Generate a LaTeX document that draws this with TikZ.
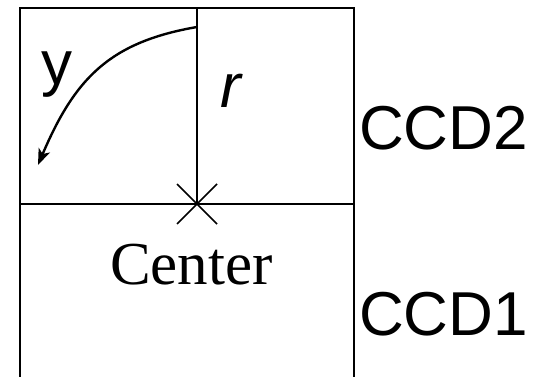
\documentclass[tikz,border=0pt]{standalone}
\usepackage{fontspec}
\setmainfont{Liberation Sans}
\newfontfamily\serifface{Liberation Serif}
\usetikzlibrary{arrows.meta,calc}
\begin{document}
\begin{tikzpicture}[x=1pt,y=-1pt,
  frame/.style={line width=1.9pt,line cap=rect},
  big/.style={inner sep=0pt,font=\fontsize{62}{72}\selectfont},
  bigserif/.style={inner sep=0pt,font=\serifface\fontsize{61}{72}\selectfont}]
\useasboundingbox (0,0) rectangle (544,377);
\coordinate (tl) at (20,8);
\coordinate (tr) at (354,8);
\coordinate (bl) at (20,380);
\coordinate (br) at (354,380);
\coordinate (ml) at (20,204);
\coordinate (mr) at (354,204);
\coordinate (top) at (197,8);
\coordinate (ctr) at (197,204);
\draw[frame] (bl) -- (tl) -- (tr) -- (br);
\draw[frame] (ml) -- (mr);
\draw[frame] (top) -- (ctr);
\draw[line width=1.6pt] ($(ctr)+(-20,-20)$) -- ($(ctr)+(20,20)$);
\draw[line width=1.6pt] ($(ctr)+(-20,20)$) -- ($(ctr)+(20,-20)$);
\coordinate (cs) at (197,27);
\coordinate (ce) at (38,165);
\draw[line width=2.4pt,-{Stealth[length=16pt,width=12pt,inset=4pt]}] (cs) .. controls (110,42) and (75,78) .. (ce);
\node[big,anchor=base west] (y) at (41,85) {y};
\node[big,anchor=base west] (r) at (220,108) {\itshape r};
\node[big,anchor=base west] (ccd2) at (359,150) {CCD2};
\node[big,anchor=base west] (ccd1) at (359,335) {CCD1};
\node[bigserif,anchor=base west] (center) at (110,284) {Center};
\end{tikzpicture}
\end{document}
